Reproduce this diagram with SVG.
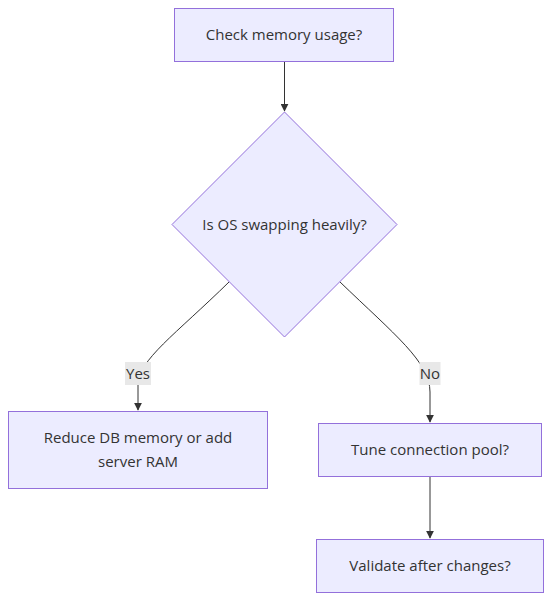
<svg xmlns="http://www.w3.org/2000/svg" width="552" height="601" viewBox="0 0 552 601">
<style>
.node rect, .node polygon { fill: #ECECFF; stroke: #9370DB; stroke-width: 1; }
.node text { font-family: "Open Sans", "Noto Sans", "Liberation Sans", sans-serif; font-size: 15px; fill: #333333; text-anchor: middle; dominant-baseline: central; }
.edge { fill: none; stroke: #333333; stroke-width: 1; }
.lbl rect { fill: #E8E8E8; }
.lbl text { font-family: "Open Sans", "Noto Sans", "Liberation Sans", sans-serif; font-size: 15px; fill: #333333; text-anchor: middle; dominant-baseline: central; }
</style>
<defs>
<marker id="arrow" viewBox="0 0 10 10" refX="9" refY="5" markerWidth="8" markerHeight="8" orient="auto" markerUnits="userSpaceOnUse">
<path d="M0,0 L10,5 L0,10 z" fill="#333333"/>
</marker>
</defs>
<g id="connectors">
<path class="edge" d="M284.5,62 L284.5,111" marker-end="url(#arrow)"/>
<path class="edge" d="M229.5,281.5 C175,335 138,360 138,385 L138,410" marker-end="url(#arrow)"/>
<path class="edge" d="M339.5,281.5 C395,335 430,362 430,392 L430,422" marker-end="url(#arrow)"/>
<path class="edge" d="M430,477 L430,538" marker-end="url(#arrow)"/>
<g class="lbl" id="label-yes"><rect x="125" y="362" width="26" height="23"/><text x="138" y="372.5">Yes</text></g>
<g class="lbl" id="label-no"><rect x="419.5" y="362" width="21" height="23"/><text x="430" y="372.5">No</text></g>
</g>
<g class="node" id="check"><rect x="174.5" y="8.5" width="219" height="53"/><text x="284" y="34">Check memory usage?</text></g>
<g class="node" id="swap"><polygon points="284.5,112 397,224.5 284.5,337 172,224.5"/><text x="284.5" y="223.5">Is OS swapping heavily?</text></g>
<g class="node" id="reduce"><rect x="8.5" y="411.5" width="259" height="77"/><text x="138" y="437">Reduce DB memory or add</text><text x="138" y="461">server RAM</text></g>
<g class="node" id="tune"><rect x="318.5" y="423.5" width="223" height="53"/><text x="430" y="449">Tune connection pool?</text></g>
<g class="node" id="validate"><rect x="316.5" y="539.5" width="227" height="53"/><text x="430" y="565">Validate after changes?</text></g>
</svg>
